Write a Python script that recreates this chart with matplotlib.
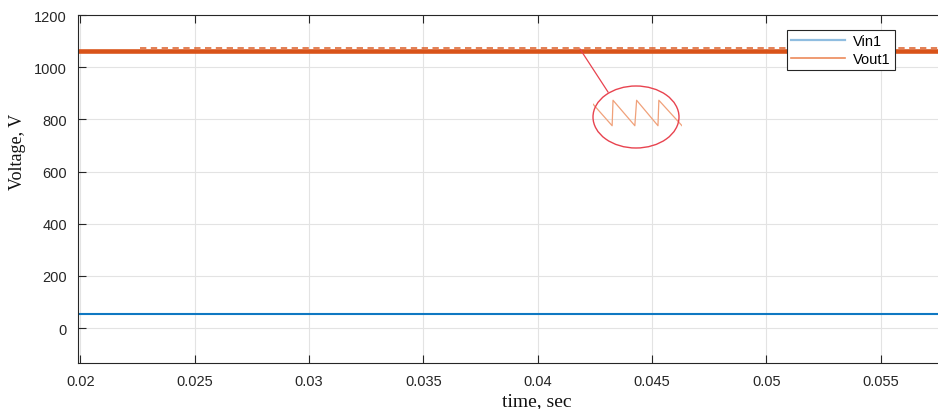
import numpy as np
import matplotlib.pyplot as plt
from matplotlib.patches import Ellipse
from matplotlib.lines import Line2D

# time axis ticks
x_ticks = [0.02, 0.025, 0.03, 0.035, 0.04, 0.045, 0.05, 0.055]
y_ticks = [0, 200, 400, 600, 800, 1000, 1200]

# Vin1 - flat input voltage
vin_t = [0.0199, 0.0575]
vin_v = [55, 55]

# Vout1 - output voltage (thick band of the switching ripple)
vout_t = [0.0199, 0.0575]
vout_v = [1063, 1063]
# ripple peaks seen as a dashed edge on top of the band
peak_t = [0.0226, 0.0575]
peak_v = [1073, 1073]

# zoomed sawtooth shown in the callout (arbitrary units inside the inset)
saw_x = [0.0, 0.215, 0.225, 0.47, 0.49, 0.73, 0.74, 1.0]
saw_y = [0.70, -0.15, 0.85, -0.15, 0.85, -0.15, 0.85, -0.15]

c_in = '#0f78c2'
c_out = '#D95319'

fig = plt.figure(figsize=(9.38, 4.10), dpi=100)
W, H = 938, 410
ax = fig.add_axes([78 / W, (H - 364) / H, (938 - 78) / W, 348 / H])

ax.plot(vin_t, vin_v, color=c_in, lw=1.5)
ax.plot(peak_t, peak_v, color=c_out, lw=1.3, ls=(0, (3.5, 2.5)), alpha=0.8)
ax.plot(vout_t, vout_v, color=c_out, lw=3.3)

ax.set_xlim(0.0199, 0.0575)
ax.set_ylim(-134, 1200)
ax.set_xticks(x_ticks)
ax.set_xticklabels([f"{t:g}" for t in x_ticks])
ax.set_yticks(y_ticks)
ax.grid(True, color='#e3e3e3', lw=0.8)
ax.set_axisbelow(True)
ax.tick_params(direction='in', top=True, right=False, length=6, width=0.8,
               labelsize=10.5, colors='#262626', pad=8)
for lab in ax.get_xticklabels() + ax.get_yticklabels():
    lab.set_fontfamily('Liberation Sans')
for side in ['left', 'bottom', 'top']:
    ax.spines[side].set_color('#262626')
    ax.spines[side].set_linewidth(0.8)
ax.spines['right'].set_visible(False)

# legend with thin lines
handles = [Line2D([], [], color='#8fbde0', lw=1.6),
           Line2D([], [], color='#ec8a5a', lw=1.2)]
leg = ax.legend(handles, ['Vin1', 'Vout1'], loc='upper left',
                bbox_to_anchor=((787 - 78) / 860, (364 - 31) / 348),
                prop={'family': 'Liberation Sans', 'size': 10.5},
                fancybox=False, edgecolor='#262626', framealpha=1,
                borderpad=0.3, labelspacing=0.25, handlelength=3.7,
                handletextpad=0.5, borderaxespad=0)
leg.get_frame().set_linewidth(0.8)

# callout ellipse and pointer line (figure pixels)
ell = Ellipse((636 / W, (H - 118) / H), 86 / W, 62 / H, transform=fig.transFigure,
              fill=False, edgecolor='#e8434f', lw=1.0)
fig.patches.append(ell)
fig.lines.append(Line2D([580 / W, 608 / W], [(H - 50) / H, (H - 93) / H],
                        transform=fig.transFigure, color='#e8434f', lw=0.9))

ins = fig.add_axes([593 / W, (H - 128) / H, (682 - 593) / W, 28 / H])
ins.plot(saw_x, saw_y, color='#f0a17a', lw=0.9)
ins.set_xlim(0, 1)
ins.set_ylim(-0.2, 0.9)
ins.axis('off')

fig.text(18 / W, (H - 152) / H, 'Voltage, V', rotation=90, ha='center', va='center',
         family='Liberation Serif', fontsize=13, color='#111111')
fig.text(537 / W, (H - 402) / H, 'time, sec', ha='center', va='center',
         family='Liberation Serif', fontsize=14, color='#111111')

fig.savefig('out.png', dpi=100)
